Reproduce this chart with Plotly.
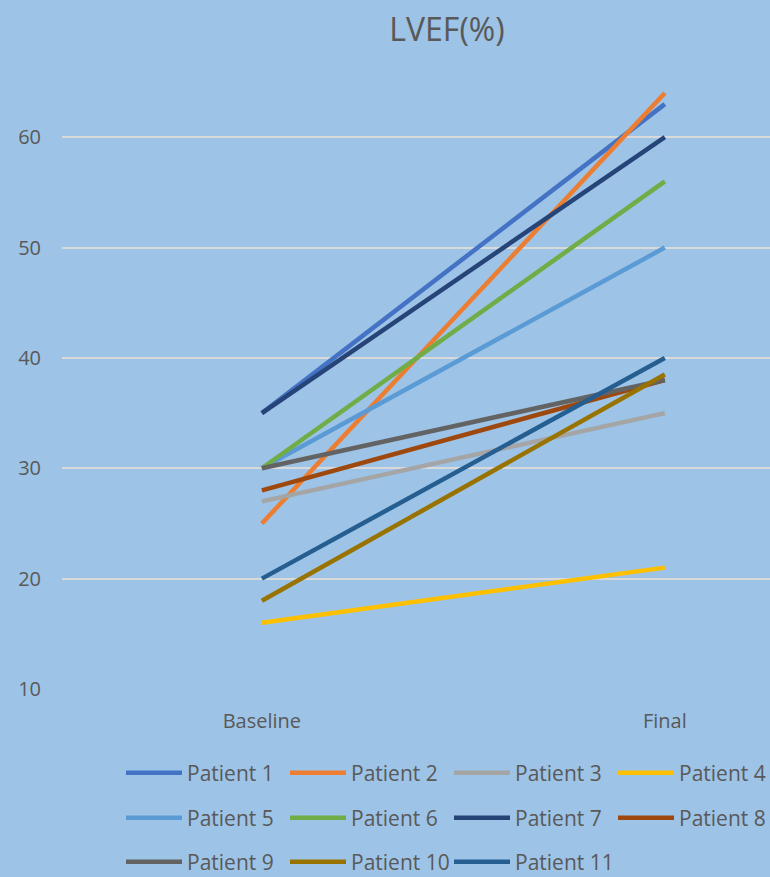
import plotly.graph_objects as go

# LVEF (%) per patient at baseline and at the final visit
visits = ["Baseline", "Final"]
patients = [f"Patient {i}" for i in range(1, 12)]
baseline = [35, 25, 27, 16, 30, 30, 35, 28, 30, 18, 20]
final = [63, 64, 35, 21, 50, 56, 60, 38, 38, 38.5, 40]

colors = ["#4472C4", "#ED7D31", "#A5A5A5", "#FFC000", "#5B9BD5", "#70AD47",
          "#264478", "#9E480E", "#636363", "#997300", "#255E91"]

y_ticks = [10, 20, 30, 40, 50, 60]

W, H = 770, 877
FONT = "'Open Sans', sans-serif"
TXT = "#595959"
BG = "#9DC3E6"

fig = go.Figure()
legend_ids = ["legend", "legend2", "legend3"]
for i, name in enumerate(patients):
    fig.add_trace(go.Scatter(
        x=visits, y=[baseline[i], final[i]], mode="lines", name=name,
        line=dict(color=colors[i], width=4.5),
        legend=legend_ids[i // 4],
    ))

row_y = [773, 818, 862]
legend_common = dict(
    orientation="h", xref="container", yref="container",
    x=121 / W, xanchor="left", yanchor="middle",
    itemwidth=56,
    entrywidth=93, entrywidthmode="pixels",
    bgcolor="rgba(0,0,0,0)", borderwidth=0,
    font=dict(family=FONT, size=21, color=TXT),
    itemclick=False, itemdoubleclick=False,
)
legends = {}
for k, lid in enumerate(legend_ids):
    legends[lid] = dict(legend_common, y=1 - row_y[k] / H)

fig.update_layout(
    width=W, height=H,
    margin=dict(l=62, r=0, t=71, b=H - 689),
    paper_bgcolor=BG, plot_bgcolor=BG,
    title=dict(text="LVEF(%)", x=447 / W, xref="container", xanchor="center",
               y=1 - 30 / H, yref="container", yanchor="middle",
               font=dict(family=FONT, size=32, color=TXT)),
    xaxis=dict(type="category", range=[-0.496, 1.261], showgrid=False,
               zeroline=False, showline=False, ticks="",
               ticklabelstandoff=18,
               tickfont=dict(family=FONT, size=20, color=TXT)),
    yaxis=dict(range=[10, 66], tickvals=y_ticks, showgrid=True,
               gridcolor="#D9D9D9", gridwidth=1.5, zeroline=False,
               showline=False, ticks="", ticklabelstandoff=20,
               tickfont=dict(family=FONT, size=20, color=TXT)),
    hovermode=False,
    **legends,
)

fig.write_html("out.html")
